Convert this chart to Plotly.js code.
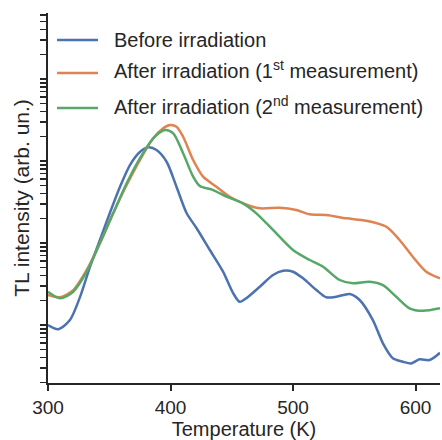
<!DOCTYPE html>
<html>
<head>
<meta charset="utf-8">
<script src="https://cdn.plot.ly/plotly-3.0.1.min.js"></script>
<style>html,body{margin:0;padding:0;background:#fff;}#chart{width:442px;height:440px;}</style>
</head>
<body>
<div id="chart"></div>
<script>
// Temperature (K) and TL intensity (arb. un.)
const blueT = [300, 308.4, 317.9, 326.1, 334.2, 342.4, 350.5, 358.7, 366.9, 375.0, 381.8, 388.6, 396.8, 404.9, 413.1, 421.2, 432.1, 442.9, 451.1, 456.5, 462.0, 472.9, 483.7, 491.9, 500.0, 508.2, 519.1, 527.2, 535.4, 546.2, 554.4, 565.2, 573.4, 581.5, 589.7, 596.5, 603.3, 611.5, 620];
const blueI = [100, 89, 115, 219, 509, 1089, 2323, 4819, 8935, 12880, 14690, 13620, 9800, 4860, 2323, 1524, 822, 447, 245, 192, 213, 293, 407, 459, 447, 371, 267, 218, 221, 239, 202, 115, 59.8, 39.3, 35.7, 34.0, 38.2, 37.4, 45.9];

const orangeT = [300, 309.8, 320.6, 331.6, 342.4, 353.2, 364.2, 375.0, 385.9, 394.0, 399.5, 404.9, 410.3, 418.5, 426.6, 437.5, 448.4, 459.2, 472.9, 489.2, 502.8, 513.6, 527.2, 543.5, 559.8, 576.2, 587.0, 597.8, 608.8, 620];
const orangeI = [232, 218, 267, 469, 991, 2302, 5093, 10280, 18920, 25060, 27500, 26200, 19770, 10280, 6440, 4860, 3672, 3050, 2649, 2693, 2523, 2238, 2193, 2000, 1870, 1580, 1089, 681, 447, 371];

const greenT = [300, 309.8, 320.6, 331.6, 342.4, 353.2, 364.2, 375.0, 385.9, 395.4, 402.2, 410.3, 418.5, 423.9, 434.8, 445.7, 459.2, 470.1, 483.7, 500.0, 513.6, 524.5, 538.1, 549.0, 562.5, 573.4, 584.3, 595.1, 606.0, 620];
const greenI = [255, 212, 255, 447, 1000, 2302, 5346, 10790, 18920, 23880, 21760, 12410, 6440, 4955, 4426, 3672, 3050, 2302, 1442, 822, 621, 514, 354, 323, 338, 307, 221, 160, 149, 160];

const seriesNames = ["Before irradiation", "After irradiation (1<sup>st</sup> measurement)", "After irradiation (2<sup>nd</sup> measurement)"];
const seriesColors = ["#4C72B0", "#DD8452", "#55A868"];
const xTicks = [300, 400, 500, 600];

// log-axis tick positions (1..9 x 10^n)
const yTicks = [];
for (let n = 1; n <= 5; n++) for (let k = 1; k <= 9; k++) yTicks.push(k * Math.pow(10, n));

const ink = "#262626";
const font = "Liberation Sans, Arial, sans-serif";

const traces = [[blueT, blueI], [orangeT, orangeI], [greenT, greenI]].map((d, i) => ({
  x: d[0], y: d[1], type: "scatter", mode: "lines", name: seriesNames[i],
  line: {color: seriesColors[i], width: 2.5, shape: "spline", smoothing: 0.8}
}));

// hand-placed legend (paper coordinates)
const legendRowsY = [0.927, 0.838, 0.743];
const shapes = seriesNames.map((n, i) => ({
  type: "line", xref: "paper", yref: "paper",
  x0: 0.023, x1: 0.1276, y0: legendRowsY[i], y1: legendRowsY[i],
  line: {color: seriesColors[i], width: 2.5}
}));
const annotations = seriesNames.map((n, i) => ({
  text: n, xref: "paper", yref: "paper", x: 0.163, y: legendRowsY[i] + (i > 0 ? 0.008 : 0),
  xanchor: "left", yanchor: "middle", showarrow: false,
  font: {size: 20, color: ink, family: font}
}));

const layout = {
  width: 442, height: 440,
  margin: {l: 48, r: 2, t: 13, b: 57},
  paper_bgcolor: "#fff", plot_bgcolor: "#fff",
  font: {family: font, color: ink, size: 19},
  showlegend: false,
  shapes: shapes,
  annotations: annotations,
  xaxis: {
    range: [300, 620], tickvals: xTicks, ticktext: xTicks.map(String),
    showline: true, linecolor: ink, linewidth: 2, mirror: false,
    ticks: "outside", ticklen: 6, tickwidth: 2, tickcolor: ink,
    showgrid: false, zeroline: false, tickfont: {size: 19},
    title: {text: "Temperature (K)", font: {size: 20}, standoff: 2}
  },
  yaxis: {
    type: "log", range: [1.293, 5.805], tickvals: yTicks, showticklabels: false,
    showline: true, linecolor: ink, linewidth: 2,
    ticks: "outside", ticklen: 6, tickwidth: 1.5, tickcolor: ink,
    showgrid: false, zeroline: false,
    title: {text: "TL intensity (arb. un.)", font: {size: 21}, standoff: 5}
  }
};

Plotly.newPlot("chart", traces, layout, {displayModeBar: false, staticPlot: true});
</script>
</body>
</html>
